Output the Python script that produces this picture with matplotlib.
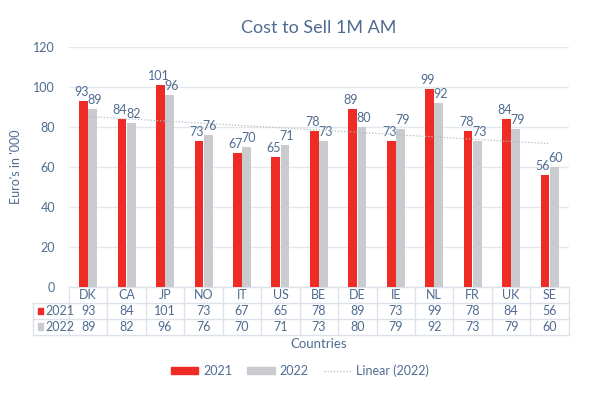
import numpy as np
import matplotlib.pyplot as plt
from matplotlib.lines import Line2D
from matplotlib.patches import Patch, Rectangle
import matplotlib.transforms as mtransforms

countries = ["DK", "CA", "JP", "NO", "IT", "US", "BE", "DE", "IE", "NL", "FR", "UK", "SE"]
vals_2021 = [93, 84, 101, 73, 67, 65, 78, 89, 73, 99, 78, 84, 56]
vals_2022 = [89, 82, 96, 76, 70, 71, 73, 80, 79, 92, 73, 79, 60]

red = "#EE2B24"
grey = "#C9CBCE"
txt = "#4F6C90"
gridc = "#E4E8EE"

plt.rcParams['font.family'] = ['Lato', 'DejaVu Sans']

fig = plt.figure(figsize=(6, 3.99), dpi=100)
ax = fig.add_axes([0.115, 0.281, 0.833, 0.601])

x = np.arange(len(countries))
w = 0.23
b1 = ax.bar(x - 0.12, vals_2021, w, color=red, zorder=3)
b2 = ax.bar(x + 0.12, vals_2022, w, color=grey, zorder=3)
for r, v in zip(b1, vals_2021):
    ax.text(r.get_x() + r.get_width() / 2 - 0.05, v + 1.5, str(v), ha="center", va="bottom",
            fontsize=9, color=txt, zorder=4)
for r, v in zip(b2, vals_2022):
    ax.text(r.get_x() + r.get_width() / 2 + 0.05, v + 1.5, str(v), ha="center", va="bottom",
            fontsize=9, color=txt, zorder=4)

# linear trend for 2022
k, c = np.polyfit(x, vals_2022, 1)
ax.plot(x, k * x + c, ls=(0, (1, 1.5)), color="#B8BBBF", lw=0.9, zorder=4)

ax.set_xlim(-0.5, len(countries) - 0.5)
ax.set_ylim(0, 120)
ax.set_yticks(range(0, 121, 20))
ax.yaxis.grid(True, color=gridc, lw=1, zorder=0)
ax.tick_params(axis="y", length=0, labelsize=9, labelcolor=txt, pad=10)
ax.set_xticks([])
for s in ax.spines.values():
    s.set_visible(False)
ax.set_ylabel("Euro's in '000", color=txt, fontsize=9, labelpad=8)

ax.set_title("Cost to Sell 1M AM", color=txt, fontsize=13, pad=10)

# data table under the axis
trans = mtransforms.blended_transform_factory(ax.transData, ax.transAxes)
rh = 16 / 241.0
left_col = -0.5 - 36 / 38.5
lc = "#DDE2EA"
rows = [("", None, countries), ("2021", red, vals_2021), ("2022", grey, vals_2022)]
for j, (lab, col, vals) in enumerate(rows):
    y0 = -rh * (j + 1)
    for i, v in enumerate(vals):
        ax.text(i, y0 + rh / 2, str(v), transform=trans, ha="center", va="center",
                fontsize=9, color=txt, clip_on=False)
    if lab:
        ax.add_patch(Rectangle((left_col + 0.12, y0 + rh * 0.3), 0.15, rh * 0.4, transform=trans,
                               color=col, clip_on=False))
        ax.text(left_col + 0.32, y0 + rh / 2, lab, transform=trans, ha="left", va="center",
                fontsize=9, color=txt, clip_on=False)
# table lines
for j in range(4):
    yy = -rh * j
    xs = -0.5 if j == 0 else left_col
    ax.plot([xs, len(countries) - 0.5], [yy, yy], transform=trans, color=lc, lw=1, clip_on=False)
for i in range(len(countries) + 1):
    ax.plot([i - 0.5, i - 0.5], [0, -3 * rh], transform=trans, color=lc, lw=1, clip_on=False)
ax.plot([left_col, left_col], [-rh, -3 * rh], transform=trans, color=lc, lw=1, clip_on=False)

fig.text(0.5 * (0.115 + 0.948), 1 - 344 / 399, "Countries", ha="center", va="center",
         fontsize=9.5, color=txt)

handles = [Patch(color=red, label="2021"), Patch(color=grey, label="2022"),
           Line2D([], [], ls=(0, (1, 1.5)), color="#B8BBBF", lw=0.9, label="Linear (2022)")]
fig.legend(handles=handles, loc="center", bbox_to_anchor=(0.5, 1 - 371 / 399),
           ncol=3, frameon=False, fontsize=9, labelcolor=txt, handlelength=2.2, handleheight=0.5,
           handletextpad=0.4, columnspacing=1.2)

fig.savefig("out.png", dpi=100, facecolor="white")
